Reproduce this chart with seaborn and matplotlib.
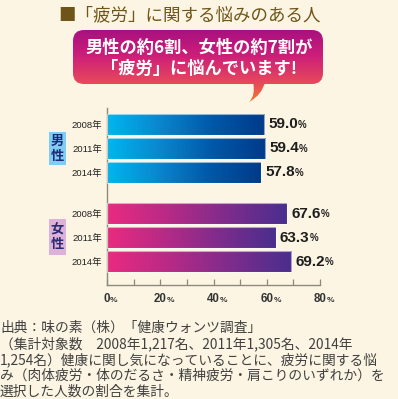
import numpy as np
import pandas as pd
import matplotlib
matplotlib.use("Agg")
import matplotlib.pyplot as plt
import seaborn as sns
from matplotlib.colors import LinearSegmentedColormap, to_hex
from matplotlib.patches import FancyBboxPatch, Rectangle, PathPatch
from matplotlib.path import Path

# ---------------- data ----------------
years = ["2008年", "2011年", "2014年"]
male = [59.0, 59.4, 57.8]
female = [67.6, 63.3, 69.2]
groups = ["男性", "女性"]
xticks_major = [0, 20, 40, 60, 80]
xticks_minor = [0, 10, 20, 30, 40, 50, 60, 70, 80]
title = "■「疲労」に関する悩みのある人"
bubble_lines = ["男性の約6割、女性の約7割が", "「疲労」に悩んでいます!"]
source_lines = [
    "出典：味の素（株）「健康ウォンツ調査」",
    "（集計対象数　2008年1,217名、2011年1,305名、2014年",
    "1,254名）健康に関し気になっていることに、疲労に関する悩",
    "み（肉体疲労・体のだるさ・精神疲労・肩こりのいずれか）を",
    "選択した人数の割合を集計。",
]

# ---------------- style ----------------
sns.set_theme(style="white")
plt.rcParams['font.family'] = ['Noto Sans CJK JP', 'DejaVu Sans']
NUMFONT = ['Liberation Sans', 'Noto Sans CJK JP']
BG = "#FCF5E3"
W, H = 398, 399

fig = plt.figure(figsize=(W / 100, H / 100), dpi=100, facecolor=BG)

# layout (pixel units)
AX_L, AX_R, AX_T, AX_B = 107, 320, 108, 285
STEP, G0, G1 = 24, 124.5, 213.5

ax = fig.add_axes([AX_L / W, 1 - AX_B / H, (AX_R - AX_L) / W, (AX_B - AX_T) / H])
ax.set_facecolor('none')

pos = [G0 + STEP * i for i in range(len(years))] + [G1 + STEP * i for i in range(len(years))]
df = pd.DataFrame({
    "group": [groups[0]] * len(male) + [groups[1]] * len(female),
    "year": years + years,
    "value": male + female,
    "pos": pos,
})

male_end = "#003a8a"
female_end = "#4b2e8e"
sns.barplot(data=df, x="value", y="pos", hue="group", orient="h", native_scale=True,
            width=0.875, dodge=False, palette={groups[0]: male_end, groups[1]: female_end},
            legend=False, ax=ax, saturation=1)

cmaps = {
    male_end: LinearSegmentedColormap.from_list("m", ["#00B6EF", "#0A86CE", "#0058A8", "#003A8A"]),
    female_end: LinearSegmentedColormap.from_list("f", ["#EA2A80", "#B82A86", "#7E2C8C", "#4A2E8E"]),
}
grad = np.linspace(0, 1, 256).reshape(1, -1)
for p in list(ax.patches):
    fc = to_hex(p.get_facecolor()).lower()
    if fc in cmaps:
        cm = cmaps[fc]
    else:
        # pick nearest by colour
        rgb = np.array(matplotlib.colors.to_rgb(fc))
        cm = min(cmaps.items(),
                 key=lambda kv: np.sum((np.array(matplotlib.colors.to_rgb(kv[0])) - rgb) ** 2))[1]
    x0, y0, w, h = p.get_x(), p.get_y(), p.get_width(), p.get_height()
    im = ax.imshow(grad, extent=[x0, x0 + w, y0, y0 + h], cmap=cm, aspect='auto',
                   origin='lower', zorder=2, interpolation='bilinear')
    im.set_clip_path(p)
    p.set_facecolor('none')
    p.set_edgecolor((1, 1, 1, 0.55))
    p.set_linewidth(0.8)
    p.set_zorder(3)

ax.set_xlim(0, 80)
ax.set_ylim(AX_B, AX_T)

# spines
for s in ["top", "right"]:
    ax.spines[s].set_visible(False)
for s in ["left", "bottom"]:
    ax.spines[s].set_color("#8C8A80")
    ax.spines[s].set_linewidth(1.0)

ax.set_xticks(xticks_minor)
ax.set_xticklabels([])
ax.tick_params(axis='x', direction='in', length=4, width=0.9, color="#8C8A80", bottom=True)
ax.set_yticks(pos)
ax.set_yticklabels(years + years, fontsize=6.8, color="#222222", family=NUMFONT)
ax.tick_params(axis='y', length=0, pad=3.5, left=False)
ax.set_xlabel("")
ax.set_ylabel("")

# x tick labels: number + small %
for t in xticks_major:
    nt = ax.annotate(f"{t}", xy=(t, 0), xycoords=('data', 'axes fraction'),
                     xytext=(0, -6), textcoords='offset points', ha='center', va='top',
                     fontsize=8.3, fontweight='bold', color="#333333", family=NUMFONT)
    ax.annotate("%", xy=(1, 0.08), xycoords=nt, ha='left', va='bottom',
                fontsize=6.0, fontweight='bold', color="#333333", family=NUMFONT)

# value labels
for v, y in zip(df["value"], df["pos"]):
    nt = ax.annotate(f"{v:.1f}", xy=(v, y), xytext=(3, 0), textcoords='offset points',
                     ha='left', va='center', fontsize=11, fontweight='bold',
                     color="#1E1E1E", family=NUMFONT)
    ax.annotate("%", xy=(1, 0.12), xycoords=nt, ha='left', va='bottom',
                fontsize=7.0, fontweight='bold', color="#1E1E1E", family=NUMFONT)

# ---------------- overlay (decorations) ----------------
ov = fig.add_axes([0, 0, 1, 1])
ov.set_xlim(0, W)
ov.set_ylim(H, 0)
ov.axis('off')
ov.set_facecolor('none')

# title
ov.text(190, 15, title, ha='center', va='center', fontsize=12.6, color="#6E5418")

# speech bubble
bub_cmap = LinearSegmentedColormap.from_list(
    "b", [(0, "#A8117F"), (0.35, "#CC1E7A"), (0.75, "#E84A5A"), (1.0, "#F27A2C")])
vgrad = np.linspace(0, 1, 256).reshape(-1, 1)
rect = FancyBboxPatch((73, 30), 250, 54, boxstyle="round,pad=0,rounding_size=11",
                      facecolor='none', edgecolor='none')
ov.add_patch(rect)
tail_path = Path([(253, 82), (256, 95), (249, 102), (262, 95), (265, 82), (253, 82)],
                 [Path.MOVETO, Path.CURVE3, Path.CURVE3, Path.CURVE3, Path.CURVE3, Path.CLOSEPOLY])
tail = PathPatch(tail_path, facecolor='none', edgecolor='none')
ov.add_patch(tail)
for clip in (rect, tail):
    im = ov.imshow(vgrad, extent=[73, 323, 102, 30], cmap=bub_cmap, aspect='auto',
                   origin='upper', interpolation='bilinear', zorder=1)
    im.set_clip_path(clip)
ov.set_xlim(0, W)
ov.set_ylim(H, 0)
ov.text(199, 48, bubble_lines[0], ha='center', va='center', fontsize=12.4,
        fontweight='bold', color='white', zorder=3)
ov.text(199, 69, bubble_lines[1], ha='center', va='center', fontsize=12.4,
        fontweight='bold', color='white', zorder=3)

# group label boxes
ov.add_patch(Rectangle((49, 132), 16.5, 33, facecolor="#80CCF2", edgecolor='none', zorder=2))
ov.text(57.2, 148.5, "男\n性", ha='center', va='center', fontsize=9.5, fontweight='bold',
        color="#1A2A78", linespacing=1.05, zorder=3)
ov.add_patch(Rectangle((49, 219), 16.5, 36, facecolor="#DEB2D8", edgecolor='none', zorder=2))
ov.text(57.2, 237, "女\n性", ha='center', va='center', fontsize=9.5, fontweight='bold',
        color="#2A2A70", linespacing=1.05, zorder=3)

# source notes
for i, line in enumerate(source_lines):
    ov.text(0, 328 + 15.8 * i, line, ha='left', va='center', fontsize=9.9, color="#404040")

fig.savefig("out.png", dpi=100, facecolor=BG)
